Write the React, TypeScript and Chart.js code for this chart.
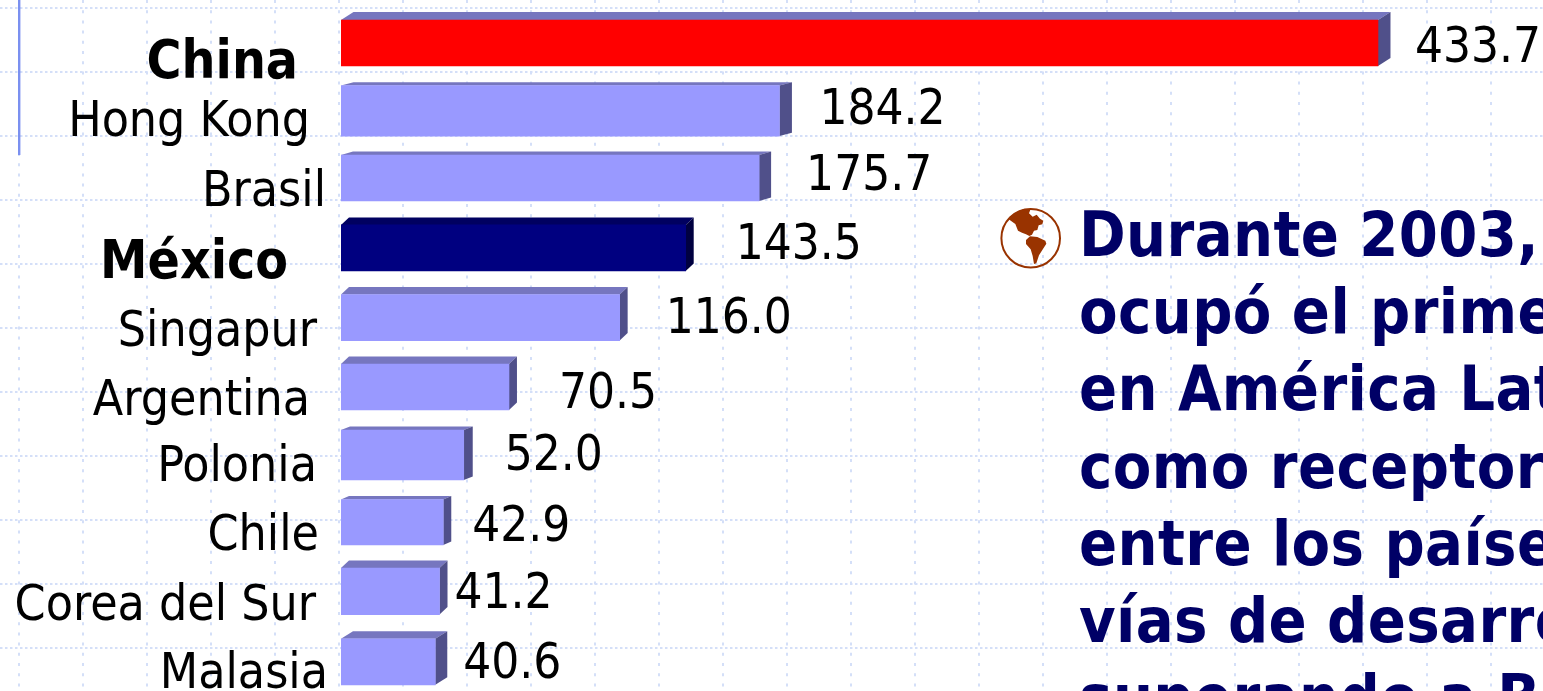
import React, { useEffect, useRef } from "react";
import { Chart, registerables } from "chart.js";

Chart.register(...registerables);

const countries = ["China", "Hong Kong", "Brasil", "México", "Singapur", "Argentina", "Polonia", "Chile", "Corea del Sur", "Malasia"];
const values = [433.7, 184.2, 175.7, 143.5, 116.0, 70.5, 52.0, 42.9, 41.2, 40.6];
const valueLabels = ["433.7", "184.2", "175.7", "143.5", "116.0", "70.5", "52.0", "42.9", "41.2", "40.6"];
const boldCountries = ["China", "México"];
const noteLines = ["Durante 2003,", "ocupó el prime", "en América Lat", "como receptor", "entre los paíse", "vías de desarro", "superando a B"];

// The slide was arranged by hand: small per-bar nudges relative to the scales.
const barDy = [0, -1, -2.6, -1.5, -0.6, 0, -0.8, -2.35, -2.05, -0.35];
const barDh = [0, 4.5, 0, 0, 0, 0, 4, -0.5, 0.5, 0];
const barDx = [0, -2, -2, 1.6, 1.3, -0.6, -1.6, -0.3, 0, -2.8];
const depthX = [12.5, 12.5, 12, 8, 8, 8, 9, 8, 8, 12];
const depthY = [8, 3.2, 3.6, 7.5, 7.5, 7.5, 3.6, 3.5, 7.5, 7.5];
const valueDx = [37, 40, 47, 50, 46, 50, 41, 29, 15, 28];
const valueDy = [19, 13, 12, 11, 15.4, 21, 15, 19, 17, 16];
const labelRight = [298, 310, 326, 288, 317, 310, 317, 319, 316, 328];
const labelDy = [35, 25, 28, 30, 28, 28, 26, 28, 29, 26];

const FAMILY = '"DejaVu Sans Condensed", "DejaVu Sans", sans-serif';
const frontColor = (name: string) => (name === "China" ? "#FF0000" : name === "México" ? "#000080" : "#9999FF");

const slidePlugin = {
  id: "slide",
  beforeDraw(chart: any) {
    const ctx = chart.ctx;
    const { width, height } = chart;
    ctx.save();
    ctx.fillStyle = "#FFFFFF";
    ctx.fillRect(0, 0, width, height);
    ctx.strokeStyle = "#D4DFF8";
    ctx.lineWidth = 2;
    ctx.setLineDash([2.5, 2.5]);
    for (let y = 8; y < height; y += 64) {
      ctx.beginPath();
      ctx.moveTo(0, y);
      ctx.lineTo(width, y);
      ctx.stroke();
    }
    ctx.setLineDash([3, 7.2]);
    for (let x = 19; x < width; x += 64) {
      ctx.beginPath();
      ctx.moveTo(x, 0);
      ctx.lineTo(x, height);
      ctx.stroke();
    }
    ctx.setLineDash([]);
    ctx.fillStyle = "#7B90F0";
    ctx.fillRect(18, 0, 2.4, 155);
    ctx.restore();
  },
  afterDatasetsUpdate(chart: any) {
    const meta = chart.getDatasetMeta(0);
    meta.data.forEach((el: any, i: number) => {
      el.y += barDy[i];
      el.height += barDh[i];
      el.x += barDx[i];
    });
  },
  beforeDatasetsDraw(chart: any) {
    const ctx = chart.ctx;
    const meta = chart.getDatasetMeta(0);
    ctx.save();
    meta.data.forEach((el: any, i: number) => {
      const left = el.base;
      const right = el.x;
      const top = el.y - el.height / 2;
      const bottom = el.y + el.height / 2;
      const dark = countries[i] === "México";
      ctx.fillStyle = dark ? "#000060" : "#7676BF";
      ctx.beginPath();
      ctx.moveTo(left, top);
      ctx.lineTo(left + depthX[i], top - depthY[i]);
      ctx.lineTo(right + depthX[i], top - depthY[i]);
      ctx.lineTo(right, top);
      ctx.closePath();
      ctx.fill();
      ctx.fillStyle = dark ? "#000040" : "#50508A";
      ctx.beginPath();
      ctx.moveTo(right, top);
      ctx.lineTo(right + depthX[i], top - depthY[i]);
      ctx.lineTo(right + depthX[i], bottom - depthY[i]);
      ctx.lineTo(right, bottom);
      ctx.closePath();
      ctx.fill();
    });
    ctx.restore();
  },
  afterDraw(chart: any) {
    const ctx = chart.ctx;
    const yScale = chart.scales.y;
    const meta = chart.getDatasetMeta(0);
    ctx.save();
    ctx.textBaseline = "alphabetic";
    countries.forEach((name, i) => {
      const cy = yScale.getPixelForValue(i);
      const bold = boldCountries.includes(name);
      ctx.fillStyle = "#000000";
      ctx.textAlign = "right";
      ctx.font = bold ? `bold 53px ${FAMILY}` : `49.5px ${FAMILY}`;
      ctx.fillText(name, labelRight[i], cy + labelDy[i] + barDy[i]);
      ctx.textAlign = "left";
      ctx.font = `49px ${FAMILY}`;
      const el = meta.data[i];
      ctx.fillText(valueLabels[i], el.x + valueDx[i], el.y + valueDy[i]);
    });
    ctx.textAlign = "left";
    ctx.fillStyle = "#000066";
    ctx.font = `bold 62.5px ${FAMILY}`;
    (ctx as any).letterSpacing = "0.4px";
    noteLines.forEach((line, i) => ctx.fillText(line, 1079, 256 + i * 77.2));
    (ctx as any).letterSpacing = "0px";

    // globe bullet
    const gx = 990;
    const gy = 200;
    const u = 1 / 3;
    const poly = (pts: number[][]) => {
      ctx.beginPath();
      pts.forEach(([a, b], k) => (k ? ctx.lineTo(gx + a * u, gy + b * u) : ctx.moveTo(gx + a * u, gy + b * u)));
      ctx.closePath();
      ctx.fill();
    };
    ctx.strokeStyle = "#993300";
    ctx.fillStyle = "#993300";
    ctx.lineWidth = 2;
    ctx.beginPath();
    ctx.arc(1030.7, 238.3, 29.3, 0, Math.PI * 2);
    ctx.stroke();
    poly([[56, 58], [66, 46], [80, 36], [100, 28], [122, 27], [117, 40], [128, 50], [140, 44], [150, 56], [160, 62], [157, 73], [146, 76], [142, 90], [132, 92], [126, 104], [118, 108], [108, 103], [96, 98], [84, 92], [76, 72]]);
    poly([[108, 120], [120, 109], [142, 111], [166, 122], [169, 131], [157, 150], [147, 166], [139, 190], [132, 192], [128, 168], [122, 148], [108, 132]]);
    ctx.restore();
  },
};

export default function App() {
  const ref = useRef<HTMLCanvasElement | null>(null);
  useEffect(() => {
    document.body.style.margin = "0";
    const chart = new Chart(ref.current as HTMLCanvasElement, {
      type: "bar",
      data: {
        labels: countries,
        datasets: [
          {
            data: values,
            backgroundColor: countries.map(frontColor),
            borderWidth: 0,
            barThickness: 46,
          },
        ],
      },
      options: {
        indexAxis: "y",
        responsive: false,
        animation: false,
        devicePixelRatio: 1,
        layout: { padding: { left: 341, right: 6.5, top: 8.6, bottom: 23.4 } },
        plugins: { legend: { display: false }, tooltip: { enabled: false }, title: { display: false } },
        scales: {
          x: { display: false, min: 0, max: 500 },
          y: { display: false, type: "category" },
        },
      },
      plugins: [slidePlugin],
    } as any);
    return () => chart.destroy();
  }, []);
  return (
    <div style={{ position: "fixed", left: 0, top: 0, width: 1543, height: 691, overflow: "hidden", background: "#fff" }}>
      <canvas ref={ref} width={1543} height={720} style={{ display: "block" }} />
    </div>
  );
}
